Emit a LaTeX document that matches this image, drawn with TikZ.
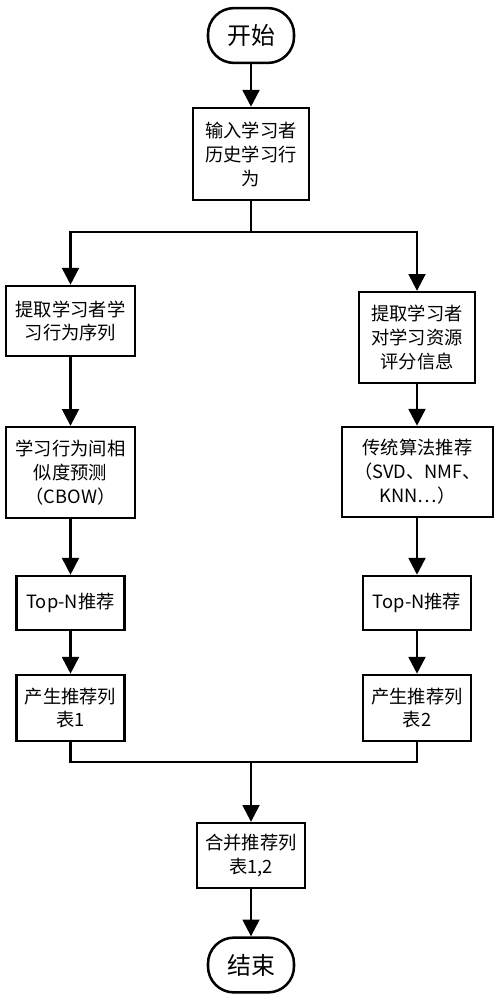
\documentclass[tikz,border=0pt]{standalone}
\usepackage{fontspec}
\setmainfont{Noto Sans CJK SC}
\usepackage{tikz}
\usetikzlibrary{arrows.meta}

\tikzset{
  box/.style={draw, line width=1.8pt, align=center, inner sep=0pt,
    font=\fontsize{13pt}{17pt}\selectfont},
  term/.style={box, rounded corners=0.65cm, minimum width=2.15cm,
    minimum height=1.37cm, font=\fontsize{17pt}{20pt}\selectfont},
  arr/.style={line width=1.8pt, -{Triangle[length=0.42cm,width=0.42cm]}},
  lin/.style={line width=1.8pt}
}

\begin{document}
\begin{tikzpicture}[x=0.025cm,y=-0.025cm]
          \useasboundingbox (0,0) rectangle (498,1000);

            % Início e entrada
          \node[term] (start) at (251,35.5) {开始};
          \node[box, minimum width=2.9cm, minimum height=2.3cm] (input) at (251,154) {输入学习者\\历史学习行\\为};

            % Ramo esquerdo
          \node[box, minimum width=3.22cm, minimum height=1.75cm] (extL) at (70.5,321) {提取学习者学\\习行为序列};
          \node[box, minimum width=3.22cm, minimum height=2.27cm] (simL) at (70.5,472.5) {学习行为间相\\似度预测\\（CBOW）};
          \node[box, minimum width=2.7cm, minimum height=1.35cm] (topL) at (70.5,603) {Top-N推荐};
          \node[box, minimum width=2.7cm, minimum height=1.65cm] (listL) at (70.5,708) {产生推荐列\\表1};

            % Ramo direito
          \node[box, minimum width=2.9cm, minimum height=2.27cm] (extR) at (417,337.5) {提取学习者\\对学习资源\\评分信息};
          \node[box, minimum width=3.77cm, minimum height=2.25cm] (algR) at (417.5,472) {传统算法推荐\\（SVD、NMF、\\KNN…）};
          \node[box, minimum width=2.7cm, minimum height=1.35cm] (topR) at (417,603) {Top-N推荐};
          \node[box, minimum width=2.7cm, minimum height=1.65cm] (listR) at (417,708) {产生推荐列\\表2};

            % Junção e fim
          \node[box, minimum width=2.7cm, minimum height=1.62cm] (merge) at (251,855.5) {合并推荐列\\表1,2};
          \node[term] (stop) at (251,965) {结束};

          \coordinate (split) at (251,232);
          \coordinate (join) at (251,762);

          \draw[arr] (start) -- (input);
          \draw[lin] (input) -- (split);
          \draw[arr] (split) -| (extL);
          \draw[arr] (split) -| (extR);
          \draw[arr] (extL) -- (simL);
          \draw[arr] (simL) -- (topL);
          \draw[arr] (topL) -- (listL);
          \draw[arr] (extR) -- (algR.north -| extR);
          \draw[arr] (algR.south -| topR) -- (topR);
          \draw[arr] (topR) -- (listR);
          \draw[lin] (listL) |- (join);
          \draw[lin] (listR) |- (join);
          \draw[arr] (join) -- (merge);
          \draw[arr] (merge) -- (stop);
        \end{tikzpicture}
\end{document}
